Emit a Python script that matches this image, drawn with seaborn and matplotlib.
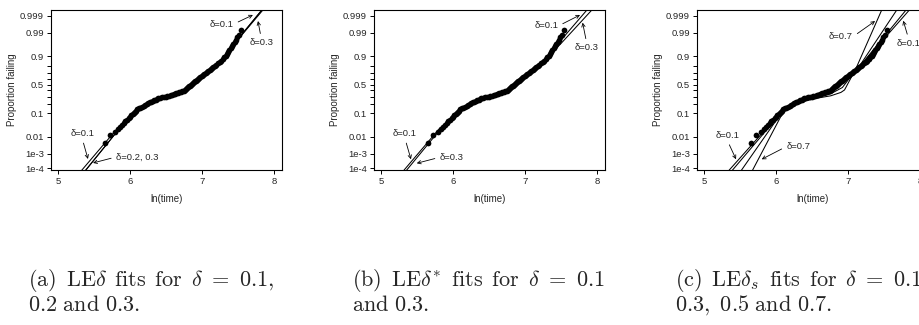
from statistics import NormalDist

import numpy as np
import pandas as pd
import matplotlib
matplotlib.use("Agg")
import matplotlib.pyplot as plt
from matplotlib.ticker import FixedLocator, FixedFormatter, NullFormatter
import seaborn as sns

# ---------------------------------------------------------------- data
# observed failures: log failure time and plotting position (proportion failing)
LN_TIME = [5.650, 5.719, 5.789, 5.826, 5.856, 5.885, 5.910, 5.935, 5.957, 5.977,
           5.997, 6.016, 6.033, 6.051, 6.067, 6.083, 6.101, 6.122, 6.143, 6.163,
           6.187, 6.210, 6.232, 6.254, 6.274, 6.295, 6.313, 6.334, 6.355, 6.375,
           6.389, 6.413, 6.441, 6.467, 6.494, 6.518, 6.543, 6.566, 6.587, 6.604,
           6.621, 6.640, 6.659, 6.679, 6.700, 6.721, 6.743, 6.764, 6.779, 6.794,
           6.808, 6.823, 6.837, 6.851, 6.865, 6.878, 6.892, 6.905, 6.919, 6.933,
           6.946, 6.960, 6.975, 6.993, 7.012, 7.031, 7.050, 7.069, 7.085, 7.103,
           7.121, 7.139, 7.158, 7.178, 7.198, 7.220, 7.242, 7.264, 7.285, 7.309,
           7.327, 7.343, 7.359, 7.377, 7.396, 7.415, 7.432, 7.450, 7.469, 7.491,
           7.517, 7.541]
PROP_FAIL = [0.0045, 0.0120, 0.018, 0.024, 0.030, 0.037, 0.044, 0.052, 0.060, 0.068,
             0.077, 0.086, 0.095, 0.105, 0.115, 0.125, 0.135, 0.145, 0.155, 0.165,
             0.175, 0.185, 0.195, 0.205, 0.215, 0.225, 0.235, 0.245, 0.255, 0.265,
             0.272, 0.279, 0.286, 0.293, 0.300, 0.307, 0.314, 0.321, 0.328, 0.335,
             0.342, 0.350, 0.358, 0.367, 0.377, 0.388, 0.399, 0.410, 0.425, 0.440,
             0.455, 0.470, 0.485, 0.500, 0.515, 0.530, 0.545, 0.560, 0.575, 0.590,
             0.605, 0.620, 0.635, 0.650, 0.665, 0.680, 0.695, 0.710, 0.725, 0.740,
             0.755, 0.770, 0.785, 0.800, 0.815, 0.830, 0.845, 0.860, 0.875, 0.890,
             0.903, 0.915, 0.927, 0.938, 0.948, 0.957, 0.965, 0.972, 0.978, 0.983,
             0.987, 0.993]

# fitted distribution curves, (ln time, proportion failing) per fit
FIT_A = {
    "0.1": ([5.30, 5.65, 5.80, 6.02, 6.16, 6.32, 6.48, 6.67, 6.83, 6.97, 7.16, 7.32, 7.41, 7.86],
            [4.4e-5, 0.0047, 0.0207, 0.089, 0.164, 0.239, 0.297, 0.362, 0.479, 0.632, 0.783, 0.895, 0.955, 0.99973]),
    "0.2": ([5.35, 5.90, 6.02, 6.16, 6.32, 6.48, 6.67, 6.83, 6.97, 7.16, 7.32, 7.41, 7.86],
            [4.0e-5, 0.039, 0.089, 0.164, 0.239, 0.297, 0.362, 0.479, 0.632, 0.783, 0.895, 0.955, 0.99973]),
    "0.3": ([5.35, 5.90, 6.02, 6.16, 6.32, 6.48, 6.67, 6.83, 6.97, 7.16, 7.32, 7.44, 7.87],
            [4.0e-5, 0.039, 0.089, 0.164, 0.239, 0.297, 0.362, 0.479, 0.632, 0.783, 0.895, 0.964, 0.99971]),
}
FIT_B = {
    "0.1": ([5.29, 5.80, 6.02, 6.16, 6.32, 6.48, 6.67, 6.83, 6.97, 7.16, 7.32, 7.46, 7.88],
            [4.5e-5, 0.0233, 0.089, 0.164, 0.239, 0.297, 0.362, 0.479, 0.632, 0.783, 0.895, 0.968, 0.99969]),
    "0.3": ([5.33, 5.88, 6.02, 6.16, 6.32, 6.48, 6.67, 6.83, 6.97, 7.16, 7.32, 7.50, 7.95],
            [4.7e-5, 0.039, 0.089, 0.164, 0.239, 0.297, 0.362, 0.479, 0.632, 0.783, 0.895, 0.968, 0.99969]),
}
FIT_C = {
    "0.1": ([5.30, 6.05, 6.16, 6.25, 6.39, 6.58, 6.76, 6.90, 7.06, 7.15, 7.88],
            [3.4e-5, 0.100, 0.164, 0.203, 0.271, 0.319, 0.397, 0.540, 0.691, 0.782, 0.99972]),
    "0.3": ([5.35, 6.07, 6.16, 6.25, 6.39, 6.58, 6.76, 6.90, 7.06, 7.15, 7.83],
            [3.5e-5, 0.106, 0.164, 0.203, 0.271, 0.312, 0.397, 0.540, 0.691, 0.782, 0.99971]),
    "0.5": ([5.49, 6.08, 6.25, 6.50, 6.76, 6.92, 7.05, 7.16, 7.70],
            [4.0e-5, 0.111, 0.189, 0.268, 0.345, 0.452, 0.663, 0.802, 0.99973]),
    "0.7": ([5.65, 6.10, 6.20, 6.40, 6.60, 6.76, 6.90, 6.95, 7.03, 7.12, 7.48],
            [3.9e-5, 0.115, 0.171, 0.236, 0.281, 0.312, 0.367, 0.409, 0.599, 0.791, 0.99971]),
}

PROB_TICKS = [1e-4, 1e-3, 0.01, 0.1, 0.5, 0.9, 0.99, 0.999]
PROB_LABELS = ["1e-4", "1e-3", "0.01", "0.1", "0.5", "0.9", "0.99", "0.999"]
PROB_MINOR = [0.2, 0.3, 0.4, 0.6, 0.7, 0.8]
TIME_TICKS = [5, 6, 7, 8]

CAPTIONS = [
    (r"$\mathrm{(a)\ \,LE}\delta\mathrm{\ \,fits\ \,for\ \,}\delta\ =\ 0.1,$",
     r"$0.2\ \mathrm{and}\ 0.3.$"),
    (r"$\mathrm{(b)\ \,LE}\delta^{*}\mathrm{\ \,fits\ \,for\ \,}\delta\ =\ 0.1$",
     r"$\mathrm{and}\ 0.3.$"),
    (r"$\mathrm{(c)\ \,LE}\delta_{s}\mathrm{\ \,fits\ \,for\ \,}\delta\ =\ 0.1,$",
     r"$0.3,\ 0.5\ \mathrm{and}\ 0.7.$"),
]

# annotation labels: text, arrow tip (axes fraction), text centre (axes fraction), arrow start side
NOTES = [
    [("δ=0.1", (0.874, 0.969), (0.739, 0.912), (1.0, 0.5)),
     ("δ=0.3", (0.896, 0.931), (0.910, 0.796), (0.5, 1.0)),
     ("δ=0.1", (0.160, 0.069), (0.135, 0.225), (0.5, 0.0)),
     ("δ=0.2, 0.3", (0.182, 0.044), (0.372, 0.081), (0.0, 0.5))],
    [("δ=0.1", (0.892, 0.969), (0.746, 0.900), (1.0, 0.5)),
     ("δ=0.3", (0.903, 0.921), (0.921, 0.764), (0.5, 1.0)),
     ("δ=0.1", (0.160, 0.067), (0.134, 0.225), (0.5, 0.0)),
     ("δ=0.3", (0.185, 0.042), (0.335, 0.079), (0.0, 0.5))],
    [("δ=0.7", (0.771, 0.931), (0.623, 0.833), (1.0, 0.5)),
     ("δ=0.1", (0.893, 0.933), (0.916, 0.792), (0.5, 1.0)),
     ("δ=0.1", (0.169, 0.067), (0.131, 0.214), (0.5, 0.0)),
     ("δ=0.7", (0.280, 0.067), (0.438, 0.146), (0.0, 0.5))],
]

# ---------------------------------------------------------------- style
sns.set_theme(style="ticks")
plt.rcParams["font.family"] = ["Liberation Sans", "DejaVu Sans"]
plt.rcParams["mathtext.fontset"] = "cm"
plt.rcParams["axes.linewidth"] = 0.8

_nd = NormalDist()


def probit(p):
    p = np.clip(np.asarray(p, dtype=float), 1e-12, 1 - 1e-12)
    return np.vectorize(_nd.inv_cdf, otypes=[float])(p)


def inv_probit(z):
    return np.vectorize(_nd.cdf, otypes=[float])(np.asarray(z, dtype=float))


obs = pd.DataFrame({"ln_time": LN_TIME, "prop": PROP_FAIL})

fig = plt.figure(figsize=(9.2, 3.25), dpi=100)
lefts = [51, 374, 697]
panels = [FIT_A, FIT_B, FIT_C]

for i, (left, fits) in enumerate(zip(lefts, panels)):
    ax = fig.add_axes([left / 920, 1 - 170 / 325, 231 / 920, 160 / 325])
    ax.set_yscale("function", functions=(probit, inv_probit))
    ax.set_xlim(4.9, 8.11)
    ax.set_ylim(7.0e-5, 0.999587)

    for name, (xs, ps) in fits.items():
        fit_df = pd.DataFrame({"ln_time": xs, "prop": ps})
        sns.lineplot(data=fit_df, x="ln_time", y="prop", ax=ax, sort=False,
                     estimator=None, color="black", lw=0.75)

    sns.scatterplot(data=obs, x="ln_time", y="prop", ax=ax, s=17,
                    color="black", linewidth=0, zorder=3)

    ax.yaxis.set_major_locator(FixedLocator(PROB_TICKS))
    ax.yaxis.set_major_formatter(FixedFormatter(PROB_LABELS))
    ax.yaxis.set_minor_locator(FixedLocator(PROB_MINOR))
    ax.yaxis.set_minor_formatter(NullFormatter())
    ax.xaxis.set_major_locator(FixedLocator(TIME_TICKS))
    ax.xaxis.set_minor_locator(FixedLocator([]))
    ax.tick_params(axis="both", which="both", direction="out", length=3,
                   width=0.7, labelsize=6.8, pad=2.2, color="black")

    for sp in ax.spines.values():
        sp.set_visible(True)
        sp.set_linewidth(0.8)
        sp.set_color("black")

    ax.set_xlabel("ln(time)", fontsize=7)
    ax.set_ylabel("Proportion failing", fontsize=7)
    ax.xaxis.set_label_coords(0.5, -0.181)
    ax.xaxis.label.set_verticalalignment("center")
    ax.yaxis.set_label_coords(-0.167, 0.5)
    ax.yaxis.label.set_verticalalignment("center")

    for text, tip, pos, rel in NOTES[i]:
        ax.annotate(text, xy=tip, xycoords="axes fraction", xytext=pos,
                    textcoords="axes fraction", ha="center", va="center",
                    fontsize=6.8,
                    arrowprops=dict(arrowstyle="->", lw=0.6, color="black",
                                    shrinkA=1, shrinkB=0, relpos=rel,
                                    mutation_scale=6))

caption_x = [28, 352, 675]
for cx, (line1, line2) in zip(caption_x, CAPTIONS):
    fig.text(cx / 920, 1 - 286 / 325, line1, fontsize=16, ha="left", va="baseline")
    fig.text(cx / 920, 1 - 311 / 325, line2, fontsize=16, ha="left", va="baseline")

fig.savefig("out.png", dpi=100, facecolor="white")
